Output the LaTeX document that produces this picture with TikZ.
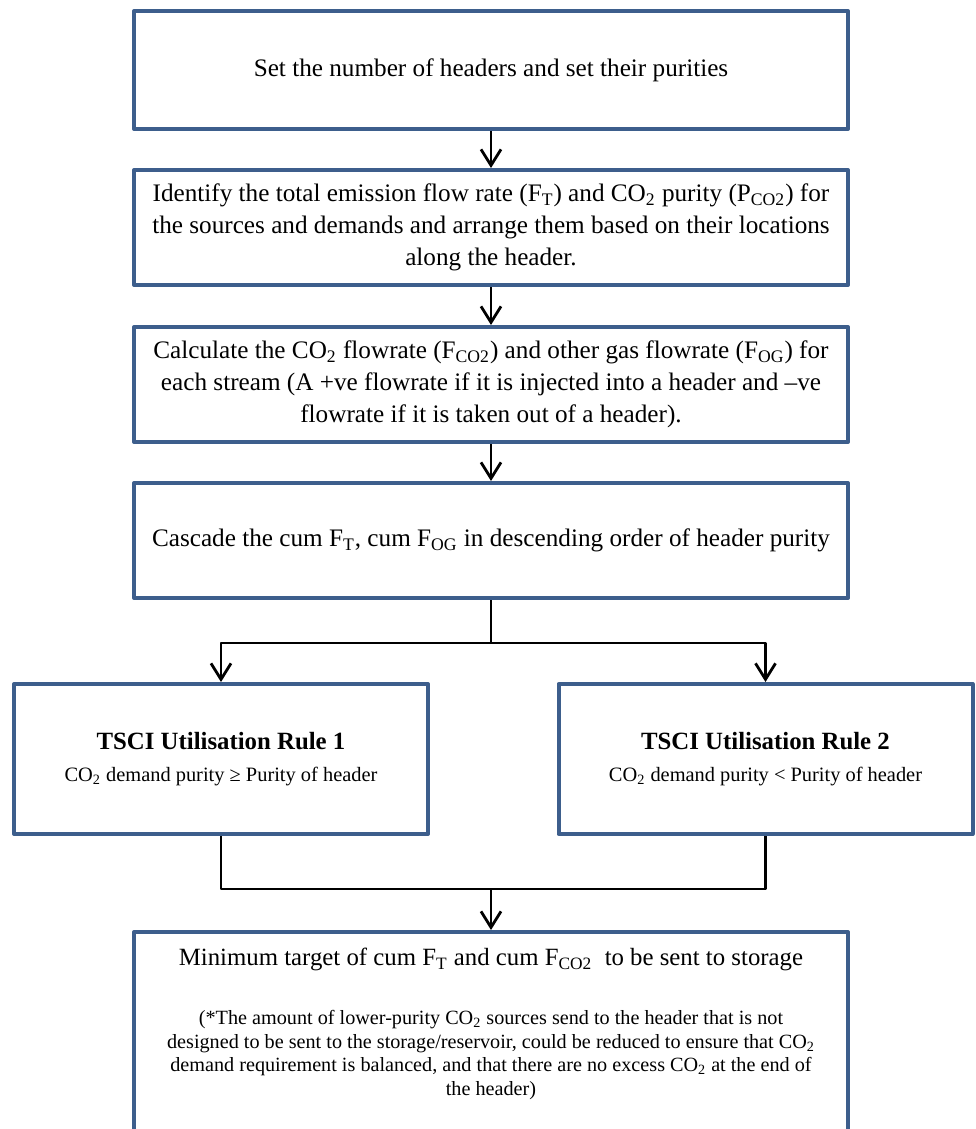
\documentclass[tikz,border=0pt]{standalone}
\usepackage{fontspec}
\setmainfont{Liberation Serif}
\usetikzlibrary{arrows.meta}
\definecolor{boxblue}{RGB}{61,94,140}
\newcommand{\sbs}[1]{\textsubscript{#1}}
\tikzset{
  stepbox/.style={draw=boxblue,line width=2pt,fill=white,minimum width=357pt,align=center,inner sep=3pt},
  link/.style={line width=1.4pt},
  flow/.style={link,-{Straight Barb[length=8pt,width=10pt,line width=1.4pt]}}
}
\begin{document}
\begin{tikzpicture}[x=0.5pt,y=-0.5pt,line join=round,font=\fontsize{12.6}{16}\selectfont]
\useasboundingbox (0,0) rectangle (975,1129);
%main column
\node[stepbox,minimum height=59pt] (set) at (491,70) {Set the number of headers and set their purities};
\node[stepbox,minimum height=57.5pt] (ident) at (491,227.5) {Identify the total emission flow rate (F\sbs{T}) and CO\sbs{2} purity (P\sbs{CO2}) for\\the sources and demands and arrange them based on their locations\\along the header.};
\node[stepbox,minimum height=57.5pt] (calc) at (491,384.5) {Calculate the CO\sbs{2} flowrate (F\sbs{CO2}) and other gas flowrate (F\sbs{OG}) for\\each stream (A +ve flowrate if it is injected into a header and –ve\\flowrate if it is taken out of a header).};
\node[stepbox,minimum height=57.5pt] (casc) at (491,540.5) {Cascade the cum F\sbs{T}, cum F\sbs{OG} in descending order of header purity};
%two rules
\node[stepbox,minimum width=207pt,minimum height=75pt] (rule1) at (221,759) {{\bfseries\fontsize{12.4}{13}\selectfont TSCI Utilisation Rule 1}\\{\fontsize{10.2}{13}\selectfont CO\sbs{2} demand purity ≥ Purity of header}};
\node[stepbox,minimum width=207pt,minimum height=75pt] (rule2) at (765.5,759) {{\bfseries\fontsize{12.4}{13}\selectfont TSCI Utilisation Rule 2}\\{\fontsize{10.2}{13}\selectfont CO\sbs{2} demand purity < Purity of header}};
%target
\node[stepbox,anchor=north,inner ysep=8pt] (target) at (491,930) {\begin{minipage}[t][130pt][t]{348pt}\centering
\fontsize{12.4}{14.5}\selectfont Minimum target of cum F\sbs{T} and cum F\sbs{CO2}\ \ to be sent to storage\par
\vspace{18pt}\fontsize{10.1}{11.7}\selectfont
(*The amount of lower-purity CO\sbs{2} sources send to the header that is not\\
designed to be sent to the storage/reservoir, could be reduced to ensure that CO\sbs{2}\\
demand requirement is balanced, and that there are no excess CO\sbs{2} at the end of\\
the header)\end{minipage}};
%connectors
\foreach \a/\b in {set/ident,ident/calc,calc/casc}
  \draw[flow] (\a) -- (\b);
\path (casc.south) ++(0,43) coordinate (split)
  (491,889) coordinate (merge);
\draw[link] (casc) -- (split);
\draw[flow] (split) -| (rule1);
\draw[flow] (split) -| (rule2);
\draw[link] (rule1) |- (merge) -| (rule2);
\draw[flow] (merge) -- (target);
\end{tikzpicture}
\end{document}
